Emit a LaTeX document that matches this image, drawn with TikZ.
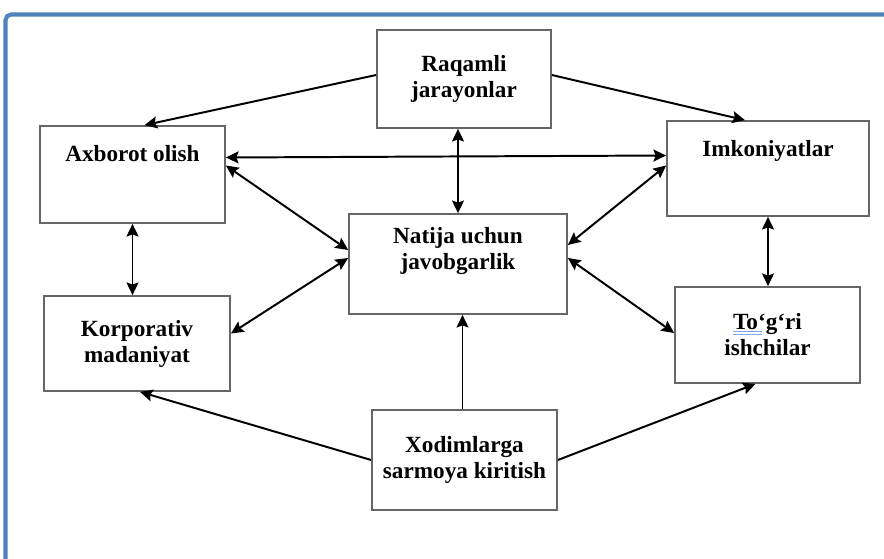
\documentclass[tikz,border=0pt]{standalone}
\usepackage{fontspec}
\setmainfont{Liberation Serif}
\usepackage{tikz}
\usetikzlibrary{arrows.meta, calc}
\definecolor{framebl}{HTML}{4F81BD}
\definecolor{spellbl}{HTML}{7FA6E8}

\begin{document}
\begin{tikzpicture}[x=0.025cm, y=-0.025cm,
  box/.style={draw=black!60, line width=1.2pt, align=center, inner sep=0pt,
    font=\fontsize{16.5}{18.5}\selectfont\bfseries},
  toptext/.style={anchor=north, inner sep=0pt, yshift=-0.5cm,
    font=\fontsize{16.5}{18.5}\selectfont\bfseries},
  link/.style={line width=1.4pt, -{Stealth[length=9pt, width=8.5pt, inset=1.5pt]}},
  both/.style={line width=1.4pt, {Stealth[length=9pt, width=8.5pt, inset=1.5pt]}-{Stealth[length=9pt, width=8.5pt, inset=1.5pt]}}]
\useasboundingbox (0,0) rectangle (884,559);
% frame
\draw[framebl, line width=2.9pt, rounded corners=4pt] (5.5,620) -- (5.5,14.5) -- (950,14.5);
% boxes
\node[box, minimum width=4.35cm, minimum height=2.45cm] (raq) at (464,79) {Raqamli\\jarayonlar};
\node[box, minimum width=4.625cm, minimum height=2.425cm,
  label={[toptext]north:Axborot olish}] (axb) at (132.5,174.5) {};
\node[box, minimum width=5.05cm, minimum height=2.375cm,
  label={[toptext]north:Imkoniyatlar}] (imk) at (768,168.5) {};
\node[box, minimum width=5.45cm, minimum height=2.5cm] (nat) at (458,264) {Natija uchun\\javobgarlik\\[4pt]};
\node[box, minimum width=4.65cm, minimum height=2.375cm] (kor) at (137,343.5) {Korporativ\\madaniyat};
\node[box, minimum width=4.625cm, minimum height=2.4cm] (tog) at (767.5,335) {To‘g‘ri\\ishchilar};
\node[box, minimum width=4.625cm, minimum height=2.5cm] (xod) at (464.5,460) {Xodimlarga\\sarmoya kiritish};
% spell check mark
\draw[spellbl, line width=0.6pt] (733,331.5) -- (762,331.5) (733,334) -- (762,334);
% connectors
\draw[link] ($(raq.west)+(0,-4)$) -- ($(axb.north)+(12,0)$);
\draw[link] ($(raq.east)+(0,-4)$) -- ($(imk.north)+(-23,0)$);
\draw[both] (raq.south -| nat.north) -- (nat.north);
\draw[both] ($(axb.east)+(0,-17)$) -- ($(imk.west)+(0,-13)$);
\draw[both] ($(axb.east)+(0,-9)$) -- ($(nat.west)+(0,-14)$);
\draw[both] ($(imk.west)+(0,-3)$) -- ($(nat.east)+(0,-19)$);
\draw[both] (axb.south) -- (axb.south |- kor.north);
\draw[both] (imk.south) -- (imk.south |- tog.north);
\draw[both] ($(nat.west)+(0,-6)$) -- ($(kor.east)+(0,-10)$);
\draw[both] ($(nat.east)+(0,-6)$) -- ($(tog.west)+(0,-2)$);
\draw[link] ($(xod.north)+(-2,0)$) -- ($(xod.north |- nat.south)+(-2,0)$);
\draw[link] (xod.west) -- ($(kor.south)+(3,0)$);
\draw[link] (xod.east) -- ($(tog.south)+(-12,0)$);
\end{tikzpicture}
\end{document}
